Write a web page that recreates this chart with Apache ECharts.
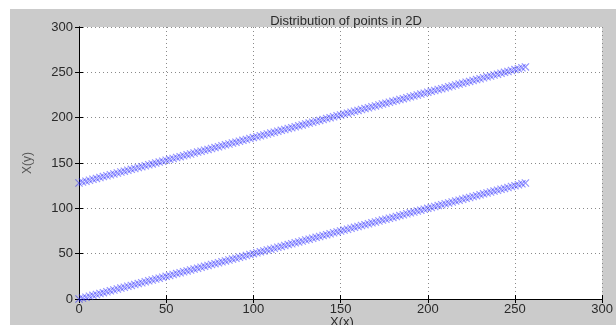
<!DOCTYPE html>
<html>
<head>
<meta charset="utf-8">
<script src="https://cdn.jsdelivr.net/npm/echarts@6/dist/echarts.min.js"></script>
<style>html,body{margin:0;padding:0;background:#fff}#c{width:616px;height:325px}</style>
</head>
<body>
<div id="c"></div>
<script>
const titleText = 'Distribution of points in 2D';
const xName = 'X(x)';
const yName = 'X(y)';
const axisTicks = [0, 50, 100, 150, 200, 250, 300];

const xs = [0,2,4,6,8,10,12,14,16,18,20,22,24,26,28,30,32,34,36,38,40,42,44,46,48,50,52,54,56,58,60,62,64,66,68,70,72,74,76,78,80,82,84,86,88,90,92,94,96,98,100,102,104,106,108,110,112,114,116,118,120,122,124,126,128,130,132,134,136,138,140,142,144,146,148,150,152,154,156,158,160,162,164,166,168,170,172,174,176,178,180,182,184,186,188,190,192,194,196,198,200,202,204,206,208,210,212,214,216,218,220,222,224,226,228,230,232,234,236,238,240,242,244,246,248,250,252,254,256];
const lowY = [0,1,2,3,4,5,6,7,8,9,10,11,12,13,14,15,16,17,18,19,20,21,22,23,24,25,26,27,28,29,30,31,32,33,34,35,36,37,38,39,40,41,42,43,44,45,46,47,48,49,50,51,52,53,54,55,56,57,58,59,60,61,62,63,64,65,66,67,68,69,70,71,72,73,74,75,76,77,78,79,80,81,82,83,84,85,86,87,88,89,90,91,92,93,94,95,96,97,98,99,100,101,102,103,104,105,106,107,108,109,110,111,112,113,114,115,116,117,118,119,120,121,122,123,124,125,126,127,128];
const highY = [128,129,130,131,132,133,134,135,136,137,138,139,140,141,142,143,144,145,146,147,148,149,150,151,152,153,154,155,156,157,158,159,160,161,162,163,164,165,166,167,168,169,170,171,172,173,174,175,176,177,178,179,180,181,182,183,184,185,186,187,188,189,190,191,192,193,194,195,196,197,198,199,200,201,202,203,204,205,206,207,208,209,210,211,212,213,214,215,216,217,218,219,220,221,222,223,224,225,226,227,228,229,230,231,232,233,234,235,236,237,238,239,240,241,242,243,244,245,246,247,248,249,250,251,252,253,254,255,256];

const pairs = (a, b) => a.map((x, i) => [x, b[i]]);
const crossPath = 'path://M0,1L1,0L5,4L9,0L10,1L6,5L10,9L9,10L5,6L1,10L0,9L4,5Z';
const font = 'Arial, "Liberation Sans", Helvetica, sans-serif';
const txt = '#2a2a2a';

const chart = echarts.init(document.getElementById('c'), null, {renderer: 'canvas'});

const baseAxis = {
  min: 0, max: 300, interval: 50,
  axisLine: {show: true, lineStyle: {color: '#000', width: 1}},
  axisTick: {show: true, inside: true, length: 4, lineStyle: {color: '#000'}},
  splitLine: {show: false},
  axisLabel: {show: false}
};

const markerSeries = (data) => ({
  type: 'scatter',
  data: data,
  symbol: crossPath,
  symbolSize: 8,
  itemStyle: {color: 'rgba(35,35,255,0.62)'},
  silent: true,
  animation: false
});

chart.setOption({
  animation: false,
  backgroundColor: '#fff',
  graphic: [{
    type: 'rect', z: -10, silent: true,
    shape: {x: 10, y: 9, width: 606, height: 316},
    style: {fill: '#cbcbcb'}
  }, {
    type: 'text', silent: true, z: 10,
    x: 342, y: 316,
    style: {text: xName, fontFamily: font, fontSize: 13, fill: txt, align: 'center', verticalAlign: 'top'}
  }],
  title: {
    text: titleText, left: 341, top: 10, textAlign: 'center',
    textStyle: {fontFamily: font, fontSize: 13, fontWeight: 'normal', color: txt}
  },
  grid: {left: 79, right: 8, top: 27, bottom: 26, show: true, backgroundColor: '#fff', borderWidth: 0},
  xAxis: [
    Object.assign({}, baseAxis, {
      type: 'value', position: 'bottom',
      axisLabel: {show: true, margin: 4, fontFamily: font, fontSize: 13, color: txt,
        formatter: v => axisTicks.includes(v) ? String(v) : ''},
      splitLine: {show: true, lineStyle: {color: '#8a8a8a', type: [1, 3], width: 1}}
    }),
    Object.assign({}, baseAxis, {type: 'value', position: 'top'})
  ],
  yAxis: [
    Object.assign({}, baseAxis, {
      type: 'value', position: 'left',
      name: yName, nameLocation: 'middle', nameGap: 45, nameRotate: 90,
      nameTextStyle: {fontFamily: font, fontSize: 12, color: '#555'},
      axisLabel: {show: true, margin: 6, fontFamily: font, fontSize: 13, color: txt,
        formatter: v => axisTicks.includes(v) ? String(v) : ''},
      splitLine: {show: true, lineStyle: {color: '#8a8a8a', type: [1, 3], width: 1}}
    }),
    Object.assign({}, baseAxis, {type: 'value', position: 'right'})
  ],
  series: [markerSeries(pairs(xs, lowY)), markerSeries(pairs(xs, highY))]
});
</script>
</body>
</html>
